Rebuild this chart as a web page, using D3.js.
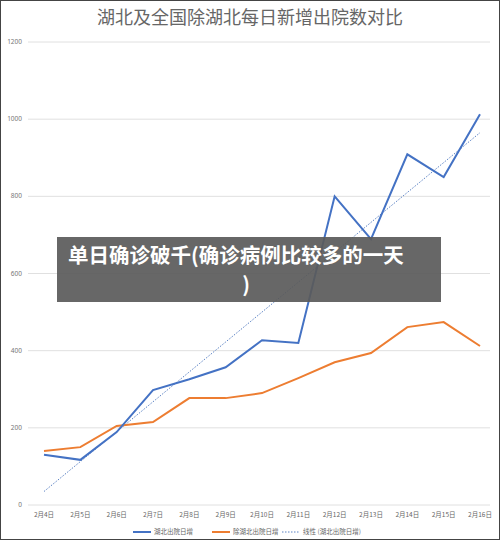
<!DOCTYPE html>
<html><head><meta charset="utf-8">
<script src="https://cdn.jsdelivr.net/npm/d3@7"></script>
<style>body{margin:0;background:#fff}svg{display:block}</style>
</head><body><div id="chart"></div>
<script>
var dates = ['2月4日','2月5日','2月6日','2月7日','2月8日','2月9日','2月10日','2月11日','2月12日','2月13日','2月14日','2月15日','2月16日']
var hubei = [130, 117, 189, 298, 326, 357, 427, 420, 800, 689, 909, 850, 1013]
var others = [140, 150, 205, 215, 277, 277, 290, 329, 370, 394, 461, 474, 412]
var trendEnds = [35, 965]
var yTicks = [0, 200, 400, 600, 800, 1000, 1200]

var w = 500, h = 540
var svg = d3.select('#chart').append('svg').attr('width', w).attr('height', h)
svg.append('rect').attr('x', 0.5).attr('y', 0.5).attr('width', w - 1).attr('height', h - 1)
  .attr('fill', '#fff').attr('stroke', '#444')

svg.append('text').text('湖北及全国除湖北每日新增出院数对比')
  .attr('x', 250).attr('y', 24).attr('text-anchor', 'middle')
  .style('font-family', 'Noto Sans CJK SC').style('font-size', '18px').attr('fill', '#666')

var x = d3.scalePoint().domain(dates).range([44, 480])
var y = d3.scaleLinear().domain([0, 1200]).range([505, 42])

yTicks.forEach(function (t) {
  svg.append('line').attr('x1', 28).attr('x2', 490).attr('y1', y(t)).attr('y2', y(t))
    .attr('stroke', '#e0e0e0')
  svg.append('text').text(t).attr('x', 22).attr('y', y(t)).attr('dy', '0.33em')
    .attr('text-anchor', 'end').style('font-family', 'Noto Sans').style('font-size', '6.5px').attr('fill', '#777')
})
dates.forEach(function (d) {
  svg.append('text').text(d).attr('x', x(d)).attr('y', 517).attr('text-anchor', 'middle')
    .style('font-family', 'Noto Sans CJK SC').style('font-size', '6.5px').attr('fill', '#666')
})

svg.append('line').attr('x1', x(dates[0])).attr('y1', y(trendEnds[0]))
  .attr('x2', x(dates[dates.length - 1])).attr('y2', y(trendEnds[1]))
  .attr('stroke', '#5b82c4').attr('stroke-width', 1).attr('stroke-dasharray', '1.5,1.5')

var line = d3.line().x(function (d, i) { return x(dates[i]) }).y(function (d) { return y(d) })
svg.append('path').datum(others).attr('d', line).attr('fill', 'none').attr('stroke', '#ed7d31').attr('stroke-width', 2)
svg.append('path').datum(hubei).attr('d', line).attr('fill', 'none').attr('stroke', '#4472c4').attr('stroke-width', 2)

// legend
var lg = [['湖北出院日增', '#4472c4', null, 133], ['除湖北出院日增', '#ed7d31', null, 212], ['线性 (湖北出院日增)', '#5b82c4', '1.5,1.5', 282]]
lg.forEach(function (l) {
  svg.append('line').attr('x1', l[3]).attr('x2', l[3] + 18).attr('y1', 532).attr('y2', 532)
    .attr('stroke', l[1]).attr('stroke-width', l[2] ? 1 : 2).attr('stroke-dasharray', l[2])
  svg.append('text').text(l[0]).attr('x', l[3] + 21).attr('y', 532).attr('dy', '0.33em')
    .style('font-family', 'Noto Sans CJK SC').style('font-size', '6.5px').attr('fill', '#666')
})

// overlay banner
svg.append('rect').attr('x', 57).attr('y', 237).attr('width', 384).attr('height', 65)
  .attr('fill', 'rgba(90,90,90,0.92)')
svg.append('text').text('单日确诊破千(确诊病例比较多的一天').attr('x', 68).attr('y', 263)
  .style('font-family', 'Noto Sans CJK SC').style('font-weight', 'bold').style('font-size', '20.5px').attr('fill', '#fff')
svg.append('text').text(')').attr('x', 246).attr('y', 292).attr('text-anchor', 'middle')
  .style('font-family', 'Noto Sans CJK SC').style('font-weight', 'bold').style('font-size', '20.5px').attr('fill', '#fff')
</script></body></html>
